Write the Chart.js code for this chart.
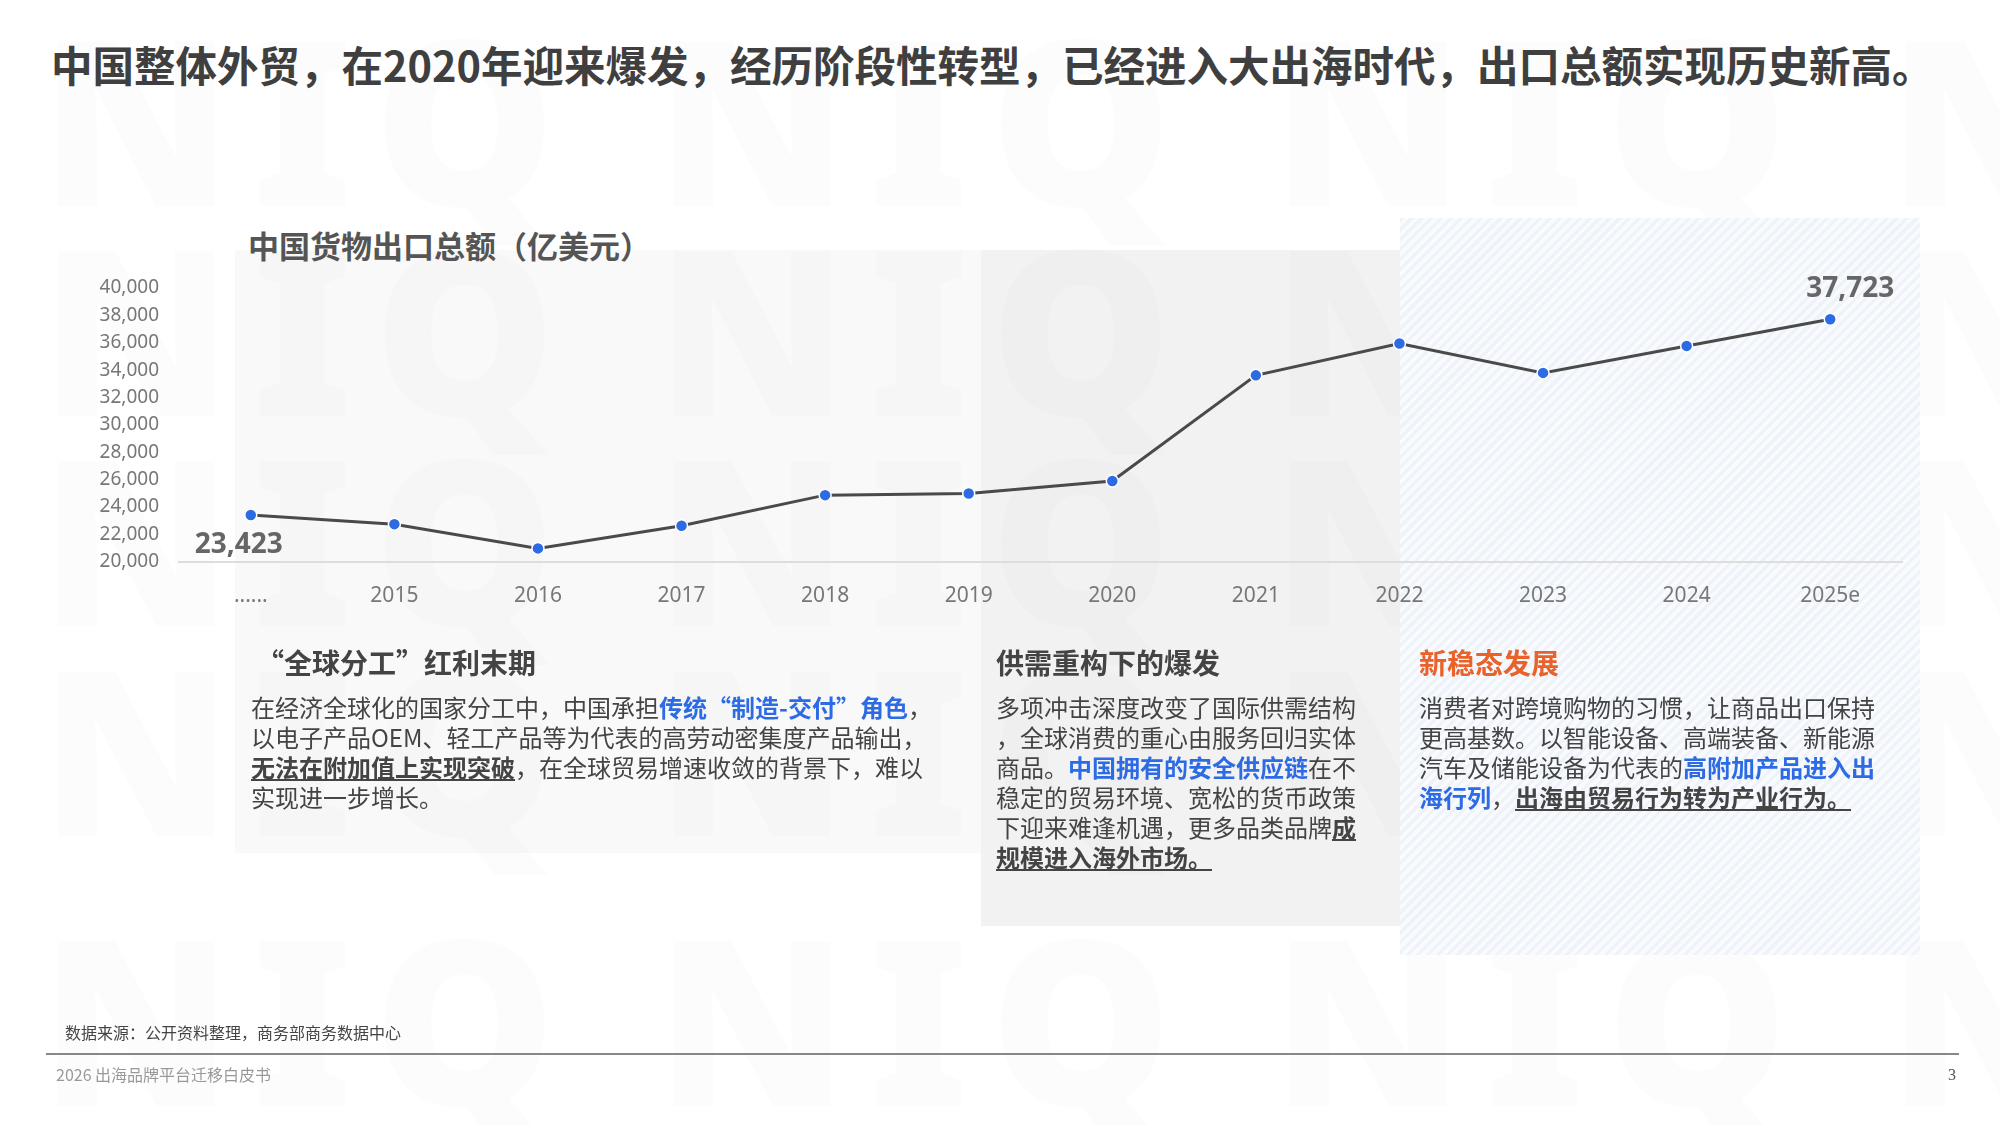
<!DOCTYPE html>
<html><head><meta charset="utf-8">
<script src="https://cdn.jsdelivr.net/npm/chart.js@4/dist/chart.umd.min.js"></script>
<style>
body{margin:0;width:2000px;height:1125px;background:#fff;position:relative;overflow:hidden;font-family:"Noto Sans CJK SC","Noto Sans",sans-serif;color:#444}
.abs{position:absolute}
.wm{position:absolute;left:40px;width:1960px;overflow:hidden;font-family:"Noto Sans";font-weight:900;font-size:230px;color:rgba(0,0,0,0.012);letter-spacing:20px;white-space:nowrap}
.h{font-weight:700;font-size:28px}
.b{font-size:24px;line-height:30px;color:#444}
.nw{white-space:nowrap}
.bl{color:#2d6be4;font-weight:700}
.u{font-weight:700;text-decoration:underline}
</style></head><body>
<div class="wm" style="top:-40px">NIQ NIQ NIQ NIQ NIQ</div>
<div class="wm" style="top:170px">NIQ NIQ NIQ NIQ NIQ</div>
<div class="wm" style="top:380px">NIQ NIQ NIQ NIQ NIQ</div>
<div class="wm" style="top:590px">NIQ NIQ NIQ NIQ NIQ</div>
<div class="wm" style="top:860px">NIQ NIQ NIQ NIQ NIQ</div>
<div class="abs" style="left:235px;top:250px;width:746px;height:603px;background:rgba(0,0,0,0.022)"></div>
<div class="abs" style="left:981px;top:250px;width:419px;height:676px;background:rgba(0,0,0,0.05)"></div>
<div class="abs" style="left:1400px;top:218px;width:520px;height:737px;background:repeating-linear-gradient(135deg,#eef3fa 0 3px,#f8fafd 3px 7px)"></div>
<div class="abs" style="left:51px;top:34px;font-size:41.5px;font-weight:700;color:#3f3f3f;white-space:nowrap">中国整体外贸，在2020年迎来爆发，经历阶段性转型，已经进入大出海时代，出口总额实现历史新高。</div>
<div class="abs" style="left:248px;top:222px;font-size:31px;font-weight:700;color:#555">中国货物出口总额（亿美元）</div>
<canvas id="c" class="abs" width="2000" height="1125" style="left:0;top:0;width:2000px;height:1125px"></canvas>
<div class="abs h" style="left:256px;top:642px">“全球分工”红利末期</div>
<div class="abs b nw" style="left:251px;top:692px">在经济全球化的国家分工中，中国承担<span class="bl">传统“制造-交付”角色</span>，<br>以电子产品OEM、轻工产品等为代表的高劳动密集度产品输出，<br><span class="u">无法在附加值上实现突破</span>，在全球贸易增速收敛的背景下，难以<br>实现进一步增长。</div>
<div class="abs h" style="left:996px;top:642px">供需重构下的爆发</div>
<div class="abs b nw" style="left:996px;top:692px">多项冲击深度改变了国际供需结构<br>，全球消费的重心由服务回归实体<br>商品。<span class="bl">中国拥有的安全供应链</span>在不<br>稳定的贸易环境、宽松的货币政策<br>下迎来难逢机遇，更多品类品牌<span class="u">成</span><br><span class="u">规模进入海外市场。</span></div>
<div class="abs h" style="left:1419px;top:642px;color:#e8622a">新稳态发展</div>
<div class="abs b" style="left:1419px;top:692px;width:470px">消费者对跨境购物的习惯，让商品出口保持更高基数。以智能设备、高端装备、新能源汽车及储能设备为代表的<span class="bl">高附加产品进入出海行列</span>，<span class="u">出海由贸易行为转为产业行为。</span></div>
<div class="abs" style="left:65px;top:1020px;font-size:16px;color:#444">数据来源：公开资料整理，商务部商务数据中心</div>
<div class="abs" style="left:46px;top:1053px;width:1913px;height:1.5px;background:#888"></div>
<div class="abs" style="left:56px;top:1062px;font-size:16px;color:#999">2026 出海品牌平台迁移白皮书</div>
<div class="abs" style="left:1948px;top:1066px;font-size:16px;color:#555;font-family:'Liberation Serif'">3</div>
<script>
const categories=["......","2015","2016","2017","2018","2019","2020","2021","2022","2023","2024","2025e"];
const exportsValues=[23423,22750,20980,22630,24870,24990,25900,33620,35940,33800,35770,37723];
const yTicks=[20000,22000,24000,26000,28000,30000,32000,34000,36000,38000,40000];
const labelPlugin={id:'lbl',afterDatasetsDraw(ch){
 const m=ch.getDatasetMeta(0),ctx=ch.ctx;ctx.save();
 ctx.font='bold 28px "Noto Sans"';ctx.fillStyle='#666';ctx.textAlign='center';ctx.textBaseline='middle';
 const f=v=>v.toLocaleString('en-US');
 const p0=m.data[0];ctx.fillText(f(exportsValues[0]),p0.x-12,p0.y+30);
 const pl=m.data[m.data.length-1];ctx.fillText(f(exportsValues[exportsValues.length-1]),pl.x+20,pl.y-30);
 ctx.restore();}};
new Chart(document.getElementById('c'),{type:'line',
 data:{labels:categories,datasets:[{data:exportsValues,borderColor:'#4a4a4a',borderWidth:3,pointRadius:6,pointBackgroundColor:'#2d6be4',pointBorderColor:'#fff',pointBorderWidth:1.5,tension:0}]},
 options:{responsive:false,animation:false,devicePixelRatio:1,
  layout:{padding:{left:0,right:98,top:288,bottom:502}},
  plugins:{legend:{display:false},tooltip:{enabled:false}},
  scales:{
   x:{offset:true,grid:{display:false},border:{color:'#ddd',width:2},ticks:{color:'#777',font:{size:21,family:'Noto Sans'},padding:14}},
   y:{min:20000,max:40000,afterBuildTicks:s=>{s.ticks=yTicks.map(v=>({value:v}));},afterFit:s=>{s.width=179;},
      grid:{display:false},border:{display:false},
      ticks:{color:'#777',font:{size:19,family:'Liberation Sans Narrow, Noto Sans'},padding:12,callback:v=>v.toLocaleString('en-US')}}
  }}, plugins:[labelPlugin]});
</script>
</body></html>
